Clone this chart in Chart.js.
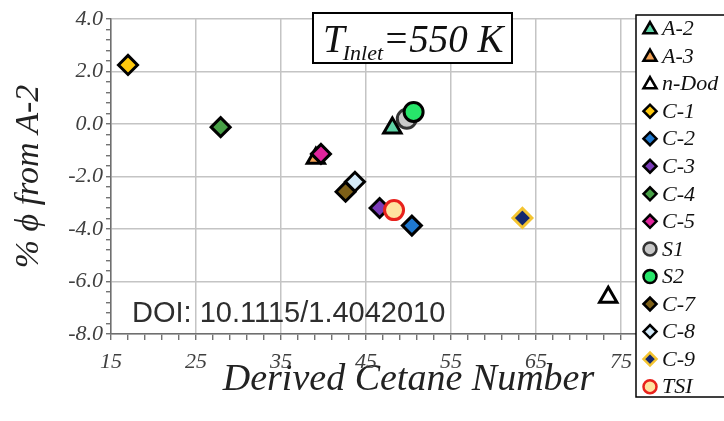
<!DOCTYPE html>
<html>
<head>
<meta charset="utf-8">
<script src="https://cdn.jsdelivr.net/npm/chart.js@4/dist/chart.umd.min.js"></script>
<style>
  html, body { margin: 0; padding: 0; background: #ffffff; }
  #wrap { width: 724px; height: 421px; position: relative; }
</style>
</head>
<body>
<div id="wrap"><canvas id="c" width="724" height="421"></canvas></div>
<script>
// Fuels, in legend order
const seriesNames = ['A-2', 'A-3', 'n-Dod', 'C-1', 'C-2', 'C-3', 'C-4', 'C-5', 'S1', 'S2', 'C-7', 'C-8', 'C-9', 'TSI'];
// Derived cetane number of each fuel
const dcnValues = [48.1, 39.1, 73.5, 17.0, 50.4, 46.6, 27.9, 39.7, 49.8, 50.6, 42.6, 43.7, 63.4, 48.3];
// Percent difference in equivalence ratio relative to A-2
const phiDiffValues = [-0.15, -1.3, -6.6, 2.25, -3.87, -3.2, -0.12, -1.14, 0.2, 0.46, -2.58, -2.2, -3.58, -3.28];
// Labelled ticks
const xTickLabels = [15, 25, 35, 45, 55, 65, 75];
const yTickLabels = [4, 2, 0, -2, -4, -6, -8];

const SERIF = '"Liberation Serif", "Times New Roman", serif';

// Marker look per fuel
const markerStyles = {
  'A-2':   { shape: 'triangle', fill: '#5ed3a6', stroke: '#000000' },
  'A-3':   { shape: 'triangle', fill: '#f2a154', stroke: '#000000' },
  'n-Dod': { shape: 'triangle', fill: '#ffffff', stroke: '#000000' },
  'C-1':   { shape: 'rectRot',  fill: '#ffc90e', stroke: '#000000' },
  'C-2':   { shape: 'rectRot',  fill: '#1f78cf', stroke: '#000000' },
  'C-3':   { shape: 'rectRot',  fill: '#7a3bb8', stroke: '#000000' },
  'C-4':   { shape: 'rectRot',  fill: '#47a046', stroke: '#000000' },
  'C-5':   { shape: 'rectRot',  fill: '#e0249c', stroke: '#000000' },
  'S1':    { shape: 'circle',   fill: '#c8c8c8', stroke: '#333333' },
  'S2':    { shape: 'circle',   fill: '#27e66a', stroke: '#000000' },
  'C-7':   { shape: 'rectRot',  fill: '#7d5f17', stroke: '#000000' },
  'C-8':   { shape: 'rectRot',  fill: '#d3e9f8', stroke: '#000000' },
  'C-9':   { shape: 'rectRot',  fill: '#14286e', stroke: '#f4c430' },
  'TSI':   { shape: 'circle',   fill: '#ffe3a0', stroke: '#e8221c' }
};

// draw stacking: later fuels above earlier ones, A-2 kept on top
const drawOrder = seriesNames.map((n, i) => n === 'A-2' ? -100 : -i);

const datasets = seriesNames.map((name, i) => {
  const st = markerStyles[name];
  return {
    label: name,
    data: [{ x: dcnValues[i], y: phiDiffValues[i] }],
    pointStyle: st.shape,
    backgroundColor: st.fill,
    borderColor: st.stroke,
    pointRadius: st.shape === 'triangle' ? 10 : (st.shape === 'circle' ? 9.5 : 9.5),
    pointBorderWidth: 3,
    borderWidth: 3,
    order: drawOrder[i]
  };
});

function isMajorX(v) { const k = (v - 15) / 10; return Math.abs(k - Math.round(k)) < 1e-6; }
function isMajorY(v) { const k = v / 2; return Math.abs(k - Math.round(k)) < 1e-6; }

// Small marker painter for the legend (same geometry as Chart.js points)
function paintMarker(ctx, shape, x, y, r, fill, stroke, lw) {
  ctx.save();
  ctx.beginPath();
  if (shape === 'triangle') {
    let a = 0;
    ctx.moveTo(x + Math.sin(a) * r, y - Math.cos(a) * r);
    a += 2 * Math.PI / 3;
    ctx.lineTo(x + Math.sin(a) * r, y - Math.cos(a) * r);
    a += 2 * Math.PI / 3;
    ctx.lineTo(x + Math.sin(a) * r, y - Math.cos(a) * r);
    ctx.closePath();
  } else if (shape === 'rectRot') {
    ctx.moveTo(x - r, y);
    ctx.lineTo(x, y - r);
    ctx.lineTo(x + r, y);
    ctx.lineTo(x, y + r);
    ctx.closePath();
  } else {
    ctx.arc(x, y, r, 0, Math.PI * 2);
  }
  ctx.fillStyle = fill;
  ctx.fill();
  ctx.lineWidth = lw;
  ctx.strokeStyle = stroke;
  ctx.stroke();
  ctx.restore();
}

const overlays = {
  id: 'overlays',
  afterDraw(chart) {
    const ctx = chart.ctx;
    ctx.save();

    // DOI note in the lower-left of the plot
    ctx.font = '29px "Liberation Sans", Arial, sans-serif';
    ctx.fillStyle = '#2e2e2e';
    ctx.textAlign = 'left';
    ctx.textBaseline = 'alphabetic';
    ctx.fillText('DOI: 10.1115/1.4042010', 132, 322);

    // Inlet temperature box
    ctx.fillStyle = '#ffffff';
    ctx.fillRect(313, 13, 199, 50);
    ctx.lineWidth = 2;
    ctx.strokeStyle = '#000000';
    ctx.strokeRect(313, 13, 199, 50);
    ctx.fillStyle = '#111111';
    ctx.font = 'italic 39px ' + SERIF;
    let tx = 323;
    ctx.fillText('T', tx, 52);
    tx += ctx.measureText('T').width - 2;
    ctx.font = 'italic 22px ' + SERIF;
    ctx.fillText('Inlet', tx, 60);
    tx += ctx.measureText('Inlet').width;
    ctx.font = 'italic 39px ' + SERIF;
    ctx.fillText('=550 K', tx, 52);

    // Legend box
    const lx = 636, ly = 15, lh = 382;
    ctx.fillStyle = '#ffffff';
    ctx.fillRect(lx, ly, 100, lh);
    ctx.lineWidth = 1.5;
    ctx.strokeStyle = '#000000';
    ctx.strokeRect(lx, ly, 100, lh);
    ctx.font = 'italic 22px ' + SERIF;
    ctx.textBaseline = 'middle';
    chart.data.datasets.forEach((ds, i) => {
      const y = 28.5 + i * 27.55;
      const r = ds.pointStyle === 'triangle' ? 7.5 : 6.5;
      paintMarker(ctx, ds.pointStyle, 650, ds.pointStyle === 'triangle' ? y + 1 : y, r,
        ds.backgroundColor, ds.borderColor, 2.5);
      ctx.fillStyle = '#111111';
      ctx.fillText(ds.label, 662, y + 1);
    });
    ctx.restore();
  }
};

new Chart(document.getElementById('c'), {
  type: 'scatter',
  data: { datasets },
  options: {
    responsive: false,
    animation: false,
    devicePixelRatio: 1,
    layout: { padding: { top: 19, right: 18, left: 0, bottom: 0 } },
    plugins: { legend: { display: false }, tooltip: { enabled: false } },
    scales: {
      x: {
        type: 'linear',
        min: 15, max: 85,
        afterFit(scale) { scale.height = 87; },
        border: { color: '#6f6f6f', width: 1.5 },
        grid: {
          color: c => (c.tick && isMajorX(c.tick.value)) ? '#c4c4c4' : 'rgba(0,0,0,0)',
          tickColor: '#5a5a5a',
          tickWidth: 1.2,
          tickLength: 6,
          lineWidth: 1.5
        },
        ticks: {
          stepSize: 2,
          autoSkip: false,
          maxRotation: 0,
          padding: 9,
          color: '#404040',
          font: { family: SERIF, size: 22, style: 'italic' },
          callback: v => xTickLabels.some(t => Math.abs(t - v) < 1e-6) ? String(v) : ''
        },
        title: {
          display: true,
          text: 'Derived Cetane Number',
          color: '#222222',
          font: { family: SERIF, size: 38, style: 'italic' },
          padding: { top: 0, bottom: 18 }
        }
      },
      y: {
        type: 'linear',
        min: -8, max: 4,
        afterFit(scale) { scale.width = 111; },
        border: { color: '#6f6f6f', width: 1.5 },
        grid: {
          color: c => (c.tick && isMajorY(c.tick.value)) ? '#c4c4c4' : 'rgba(0,0,0,0)',
          tickColor: '#5a5a5a',
          tickWidth: 1.2,
          tickLength: 5,
          lineWidth: 1.5
        },
        ticks: {
          stepSize: 0.4,
          autoSkip: false,
          padding: 3,
          color: '#404040',
          font: { family: SERIF, size: 22, style: 'italic' },
          callback: v => yTickLabels.some(t => Math.abs(t - v) < 1e-6) ? Number(v).toFixed(1) : ''
        },
        title: {
          display: true,
          text: '% \u03D5 from A-2',
          color: '#222222',
          font: { family: SERIF, size: 34, style: 'italic' },
          padding: { top: 9, bottom: 0 }
        }
      }
    }
  },
  plugins: [overlays]
});
</script>
</body>
</html>
